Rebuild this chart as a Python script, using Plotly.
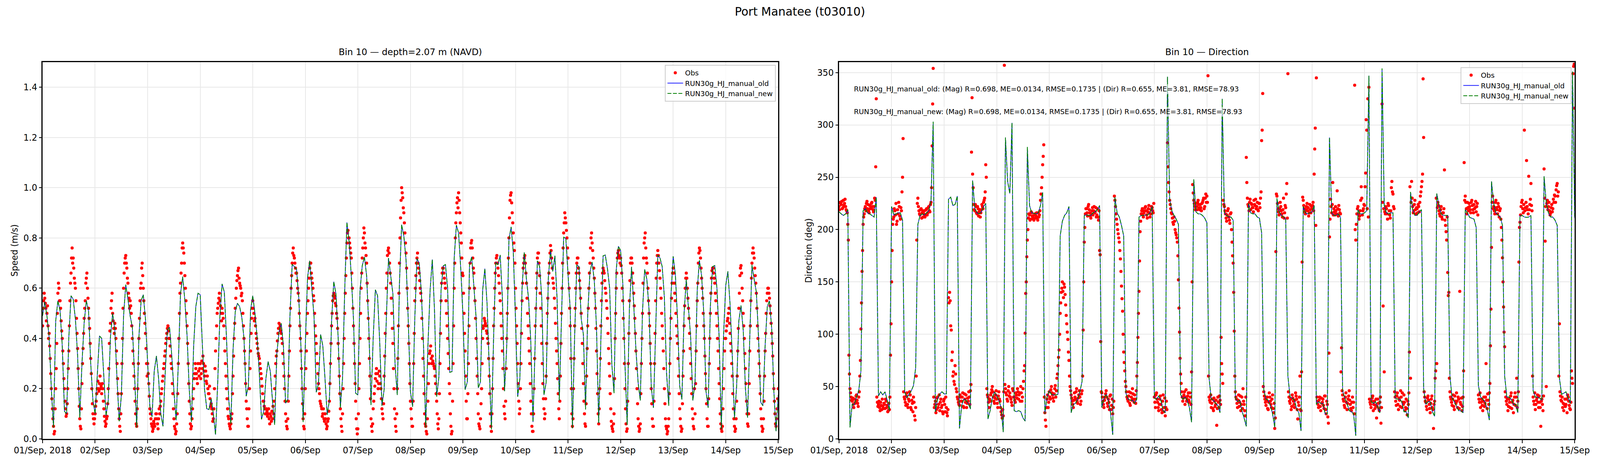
import pandas as pd
import plotly.graph_objects as go

# Hourly model output (both runs give the same numbers)
mod_spd = [
    0.49, 0.545, 0.49, 0.405, 0.20, 0.045, 0.47, 0.55, 0.51, 0.37, 0.11, 0.10, 0.405, 0.57, 0.556, 0.477, 0.333, 0.085, 0.30, 0.463, 0.55, 0.51, 0.30, 0.153,
    0.10, 0.26, 0.41, 0.40, 0.25, 0.092, 0.153, 0.405, 0.50, 0.434, 0.24, 0.07, 0.175, 0.49, 0.614, 0.556, 0.49, 0.445, 0.26, 0.045, 0.405, 0.55, 0.574, 0.477,
    0.30, 0.13, 0.088, 0.27, 0.33, 0.24, 0.10, 0.05, 0.26, 0.434, 0.445, 0.333, 0.19, 0.074, 0.30, 0.578, 0.646, 0.55, 0.41, 0.196, 0.067, 0.37, 0.527, 0.58,
    0.574, 0.37, 0.196, 0.12, 0.117, 0.16, 0.10, 0.017, 0.225, 0.49, 0.617, 0.585, 0.405, 0.16, 0.06, 0.355, 0.506, 0.54, 0.527, 0.484, 0.40, 0.17, 0.21, 0.513,
    0.57, 0.50, 0.405, 0.26, 0.078, 0.11, 0.24, 0.308, 0.27, 0.153, 0.056, 0.34, 0.426, 0.46, 0.37, 0.142, 0.157, 0.49, 0.695, 0.686, 0.675, 0.563, 0.37, 0.067,
    0.37, 0.64, 0.709, 0.592, 0.484, 0.186, 0.218, 0.416, 0.37, 0.24, 0.096, 0.153, 0.47, 0.626, 0.578, 0.405, 0.124, 0.24, 0.592, 0.862, 0.786, 0.65, 0.477, 0.182,
    0.175, 0.592, 0.689, 0.725, 0.65, 0.448, 0.135, 0.40, 0.594, 0.57, 0.383, 0.132, 0.196, 0.477, 0.72, 0.65, 0.578, 0.297, 0.175, 0.62, 0.853, 0.808, 0.714, 0.477,
    0.19, 0.128, 0.477, 0.718, 0.70, 0.585, 0.37, 0.045, 0.37, 0.592, 0.714, 0.513, 0.168, 0.245, 0.592, 0.689, 0.694, 0.60, 0.265, 0.268, 0.72, 0.851, 0.82, 0.678,
    0.49, 0.196, 0.227, 0.693, 0.725, 0.606, 0.484, 0.203, 0.227, 0.592, 0.678, 0.54, 0.297, 0.038, 0.405, 0.704, 0.693, 0.732, 0.563, 0.19, 0.37, 0.794, 0.844, 0.743,
    0.477, 0.168, 0.24, 0.60, 0.743, 0.635, 0.556, 0.383, 0.067, 0.37, 0.709, 0.686, 0.563, 0.175, 0.225, 0.642, 0.75, 0.667, 0.729, 0.556, 0.153, 0.477, 0.804, 0.797,
    0.657, 0.513, 0.042, 0.405, 0.693, 0.686, 0.48, 0.416, 0.117, 0.50, 0.664, 0.704, 0.628, 0.441, 0.063, 0.405, 0.729, 0.732, 0.678, 0.60, 0.297, 0.182, 0.671, 0.767,
    0.75, 0.62, 0.297, 0.056, 0.513, 0.685, 0.535, 0.355, 0.225, 0.153, 0.506, 0.675, 0.635, 0.513, 0.21, 0.124, 0.448, 0.732, 0.72, 0.686, 0.563, 0.26, 0.132, 0.57,
    0.727, 0.657, 0.477, 0.21, 0.157, 0.50, 0.635, 0.513, 0.405, 0.153, 0.225, 0.592, 0.711, 0.65, 0.50, 0.19, 0.124, 0.527, 0.686, 0.69, 0.60, 0.405, 0.038, 0.405,
    0.61, 0.667, 0.535, 0.333, 0.081, 0.21, 0.47, 0.531, 0.434, 0.203, 0.085, 0.405, 0.693, 0.635, 0.585, 0.405, 0.146, 0.132, 0.37, 0.527, 0.55, 0.441, 0.19, 0.031, 0.175,
]

mod_dir = [
    217, 215, 213.5, 215, 219, 11, 33, 33, 40, 46, 65, 218, 220, 216, 215, 213.5, 212, 231, 41, 45, 42, 45, 37, 27,
    222, 214, 215, 216, 216, 209, 45, 39, 43, 46, 51, 68, 205, 213.5, 215, 214, 216, 218, 227.5, 303, 26, 38, 43, 45,
    43, 43, 229, 231, 223, 224, 232, 10, 32, 38, 37, 34, 28.6, 247, 220.5, 216, 215, 217, 222, 225, 19, 27, 39, 45,
    41, 37, 30, 6.5, 288, 246, 234.5, 302, 27, 26, 27, 26, 20, 17, 279, 223, 216, 215.5, 215, 216, 223, 235.6, 24, 40,
    46, 42.6, 42, 42, 42.6, 194, 208, 213.5, 216, 222, 25, 33, 34, 38, 45, 55, 213.5, 214, 213.5, 213.5, 216, 217, 219, 223,
    30, 39, 42.6, 37, 25, 4, 231, 216, 212, 204, 194, 43.7, 38, 37, 37, 34, 38, 212, 213.5, 213.5, 214, 214, 216, 222,
    39, 38, 41, 37, 27, 25, 346, 229, 218, 213.5, 210, 205, 42.6, 38, 40, 37, 30, 16, 248, 217, 215, 215, 213.5, 211,
    206.5, 58, 38, 37, 34, 32, 25, 325, 216, 213.5, 212, 212, 209, 39, 35.6, 37, 27, 20, 12, 225, 216, 215, 215, 212,
    211, 197, 47, 38, 37, 32, 24, 11, 230, 217, 213.5, 212, 210, 60, 40, 39, 37, 28.6, 25, 7.7, 222, 216, 215, 216,
    217, 223, 33, 35.6, 34, 34, 24, 24, 288, 216, 213.5, 213.5, 215, 212, 46, 39, 34, 27, 26, 24, 3, 219, 215, 215,
    216, 218, 347, 35.6, 34, 35.6, 30, 25, 354, 223, 216, 215, 216, 216, 39, 38, 38, 35.6, 26, 26, 20, 236, 219, 213.5,
    213.5, 217, 219, 48, 33, 35.6, 35.6, 26, 21.6, 234.5, 223, 215, 213.5, 213.5, 213.5, 60, 39, 35.6, 31, 27, 27, 25, 219, 216,
    211.7, 210.7, 210, 202, 51, 40, 38, 35.6, 28.6, 18, 246, 225, 216, 214, 212, 204, 60, 40, 40, 38, 33, 33, 25, 213.5,
    213.5, 212, 211.7, 212, 213.5, 46, 40, 40, 39, 37, 251, 225, 216, 212, 212, 209, 204, 58, 42.6, 43.7, 45, 39, 34, 351, 211,
]

# Observations read on the hour and half hour, one line per day
obs_spd = [
    0.45, 0.55, 0.56, 0.52, 0.50, 0.45, 0.42, 0.32, 0.20, 0.12, 0.05, 0.03, 0.20, 0.38, 0.58, 0.60, 0.55, 0.47, 0.40, 0.30, 0.20, 0.12, 0.10, 0.20, 0.35, 0.55, 0.66, 0.76, 0.72, 0.64, 0.60, 0.48, 0.36, 0.20, 0.08, 0.04, 0.22, 0.36, 0.48, 0.55, 0.64, 0.60, 0.52, 0.44, 0.32, 0.20, 0.10, 0.06,
    0.10, 0.15, 0.20, 0.20, 0.22, 0.20, 0.18, 0.20, 0.12, 0.07, 0.06, 0.09, 0.20, 0.38, 0.46, 0.55, 0.50, 0.44, 0.46, 0.40, 0.30, 0.18, 0.08, 0.03, 0.18, 0.40, 0.60, 0.70, 0.73, 0.68, 0.62, 0.56, 0.55, 0.50, 0.40, 0.30, 0.20, 0.10, 0.05, 0.20, 0.40, 0.55, 0.62, 0.70, 0.60, 0.50, 0.42, 0.30,
    0.30, 0.22, 0.12, 0.08, 0.05, 0.04, 0.06, 0.08, 0.10, 0.06, 0.08, 0.10, 0.15, 0.20, 0.25, 0.30, 0.35, 0.40, 0.44, 0.43, 0.40, 0.33, 0.28, 0.18, 0.08, 0.04, 0.03, 0.10, 0.30, 0.50, 0.62, 0.70, 0.78, 0.74, 0.65, 0.55, 0.45, 0.30, 0.15, 0.06, 0.05, 0.12, 0.20, 0.26, 0.28, 0.24, 0.30, 0.25,
    0.30, 0.26, 0.28, 0.30, 0.25, 0.27, 0.22, 0.20, 0.18, 0.16, 0.14, 0.10, 0.08, 0.20, 0.35, 0.45, 0.52, 0.56, 0.55, 0.50, 0.52, 0.48, 0.40, 0.30, 0.20, 0.12, 0.08, 0.05, 0.06, 0.10, 0.25, 0.40, 0.52, 0.60, 0.65, 0.68, 0.62, 0.60, 0.58, 0.50, 0.40, 0.30, 0.15, 0.08, 0.05, 0.20, 0.35, 0.48,
    0.55, 0.50, 0.48, 0.42, 0.38, 0.34, 0.32, 0.28, 0.24, 0.18, 0.15, 0.12, 0.10, 0.11, 0.10, 0.08, 0.10, 0.07, 0.08, 0.10, 0.20, 0.30, 0.35, 0.42, 0.46, 0.45, 0.42, 0.38, 0.30, 0.20, 0.10, 0.05, 0.08, 0.25, 0.45, 0.60, 0.70, 0.76, 0.72, 0.68, 0.66, 0.60, 0.55, 0.45, 0.35, 0.20, 0.08, 0.04,
    0.20, 0.35, 0.50, 0.60, 0.68, 0.70, 0.64, 0.60, 0.55, 0.45, 0.38, 0.30, 0.22, 0.18, 0.14, 0.12, 0.10, 0.08, 0.10, 0.06, 0.05, 0.08, 0.15, 0.30, 0.45, 0.55, 0.58, 0.56, 0.53, 0.48, 0.38, 0.25, 0.12, 0.05, 0.10, 0.30, 0.50, 0.65, 0.78, 0.83, 0.80, 0.76, 0.72, 0.60, 0.45, 0.30, 0.15, 0.04,
    0.04, 0.20, 0.40, 0.60, 0.72, 0.80, 0.82, 0.76, 0.70, 0.55, 0.40, 0.25, 0.08, 0.03, 0.12, 0.18, 0.24, 0.28, 0.26, 0.22, 0.25, 0.20, 0.12, 0.08, 0.25, 0.42, 0.60, 0.73, 0.76, 0.70, 0.62, 0.50, 0.38, 0.20, 0.08, 0.03, 0.20, 0.45, 0.70, 0.88, 1.00, 0.96, 0.90, 0.82, 0.74, 0.60, 0.45, 0.30,
    0.15, 0.08, 0.05, 0.30, 0.55, 0.65, 0.72, 0.70, 0.66, 0.60, 0.55, 0.40, 0.25, 0.10, 0.05, 0.02, 0.15, 0.30, 0.35, 0.32, 0.33, 0.30, 0.28, 0.22, 0.15, 0.06, 0.08, 0.30, 0.55, 0.66, 0.68, 0.64, 0.60, 0.50, 0.40, 0.28, 0.18, 0.05, 0.03, 0.30, 0.60, 0.80, 0.90, 0.96, 0.98, 0.90, 0.82, 0.72,
    0.65, 0.50, 0.35, 0.15, 0.08, 0.30, 0.60, 0.76, 0.79, 0.72, 0.66, 0.55, 0.40, 0.25, 0.10, 0.05, 0.08, 0.20, 0.40, 0.45, 0.47, 0.45, 0.42, 0.38, 0.25, 0.10, 0.03, 0.20, 0.45, 0.60, 0.70, 0.73, 0.68, 0.62, 0.55, 0.45, 0.35, 0.20, 0.10, 0.15, 0.40, 0.60, 0.80, 0.95, 0.98, 0.90, 0.82, 0.75,
    0.60, 0.45, 0.30, 0.15, 0.12, 0.30, 0.55, 0.68, 0.72, 0.70, 0.62, 0.50, 0.40, 0.30, 0.15, 0.05, 0.03, 0.20, 0.45, 0.60, 0.72, 0.74, 0.65, 0.52, 0.38, 0.22, 0.12, 0.10, 0.25, 0.50, 0.62, 0.70, 0.77, 0.72, 0.64, 0.60, 0.52, 0.40, 0.30, 0.18, 0.08, 0.25, 0.50, 0.70, 0.82, 0.90, 0.86, 0.80,
    0.72, 0.60, 0.45, 0.20, 0.05, 0.20, 0.45, 0.60, 0.70, 0.72, 0.66, 0.60, 0.50, 0.38, 0.22, 0.10, 0.05, 0.25, 0.45, 0.60, 0.70, 0.80, 0.78, 0.72, 0.64, 0.52, 0.35, 0.18, 0.06, 0.20, 0.45, 0.62, 0.68, 0.66, 0.60, 0.55, 0.48, 0.36, 0.25, 0.12, 0.05, 0.03, 0.10, 0.40, 0.60, 0.72, 0.75, 0.72,
    0.72, 0.66, 0.55, 0.40, 0.20, 0.06, 0.04, 0.30, 0.55, 0.70, 0.72, 0.66, 0.58, 0.48, 0.35, 0.20, 0.08, 0.03, 0.06, 0.30, 0.50, 0.72, 0.80, 0.76, 0.70, 0.60, 0.50, 0.38, 0.20, 0.08, 0.05, 0.30, 0.55, 0.70, 0.75, 0.70, 0.64, 0.56, 0.45, 0.35, 0.20, 0.08, 0.04, 0.03, 0.08, 0.30, 0.48, 0.62,
    0.68, 0.62, 0.55, 0.45, 0.38, 0.25, 0.12, 0.05, 0.04, 0.25, 0.45, 0.60, 0.66, 0.60, 0.52, 0.42, 0.30, 0.18, 0.08, 0.04, 0.10, 0.35, 0.55, 0.70, 0.76, 0.72, 0.64, 0.56, 0.45, 0.33, 0.20, 0.08, 0.05, 0.30, 0.50, 0.64, 0.68, 0.66, 0.62, 0.55, 0.45, 0.35, 0.22, 0.10, 0.04, 0.05, 0.20, 0.35,
    0.40, 0.45, 0.48, 0.52, 0.42, 0.35, 0.25, 0.12, 0.05, 0.04, 0.15, 0.35, 0.52, 0.65, 0.69, 0.60, 0.50, 0.40, 0.28, 0.15, 0.06, 0.10, 0.35, 0.55, 0.70, 0.76, 0.72, 0.65, 0.58, 0.45, 0.35, 0.25, 0.12, 0.05, 0.04, 0.15, 0.35, 0.50, 0.58, 0.60, 0.56, 0.50, 0.42, 0.33, 0.20, 0.10, 0.05, 0.12, 0.20,
]

# Observations read at quarter past and quarter to
obs_spd_q = [
    .52, .58, .54, .47, .53, .40, .37, .26, .16, .08, .02, .12, .28, .50, .62, .55, .52, .43, .35, .24, .15, .09, .14, .28, .45, .62, .72, .70, .68, .62, .55, .42, .28, .13, .05, .12, .30, .42, .52, .62, .66, .56, .48, .38, .26, .14, .08, .08,
    .13, .18, .23, .19, .25, .21, .22, .15, .09, .05, .08, .14, .28, .43, .52, .58, .47, .42, .44, .35, .24, .12, .05, .10, .30, .52, .66, .72, .70, .64, .58, .52, .53, .45, .35, .25, .15, .06, .12, .30, .48, .60, .68, .65, .55, .46, .36, .25,
    .26, .17, .10, .06, .03, .07, .05, .10, .08, .04, .12, .13, .18, .23, .28, .33, .38, .42, .45, .40, .37, .30, .22, .12, .05, .02, .06, .18, .40, .58, .66, .76, .76, .70, .60, .50, .38, .22, .10, .04, .08, .16, .24, .30, .26, .22, .27, .28,
    .24, .31, .33, .27, .29, .23, .25, .18, .21, .13, .12, .07, .12, .28, .40, .50, .54, .58, .53, .47, .50, .45, .35, .25, .16, .09, .06, .04, .08, .18, .33, .46, .56, .63, .67, .64, .61, .57, .55, .45, .35, .22, .12, .05, .12, .28, .42, .52,
    .52, .47, .45, .40, .36, .33, .30, .26, .21, .15, .13, .10, .12, .09, .12, .06, .09, .11, .13, .15, .25, .33, .39, .44, .44, .43, .40, .34, .25, .15, .07, .04, .15, .35, .52, .65, .74, .73, .70, .66, .63, .58, .50, .40, .28, .14, .05, .10,
    .28, .42, .55, .64, .70, .66, .62, .57, .50, .41, .34, .26, .20, .15, .13, .09, .12, .07, .08, .04, .07, .11, .22, .38, .50, .57, .57, .54, .50, .44, .32, .18, .08, .03, .20, .40, .58, .72, .82, .80, .78, .74, .66, .52, .38, .22, .08, .02,
    .10, .30, .50, .66, .76, .84, .78, .73, .62, .48, .32, .16, .05, .06, .15, .21, .26, .23, .20, .27, .22, .16, .10, .14, .33, .50, .66, .75, .74, .66, .56, .44, .28, .12, .05, .10, .32, .58, .80, .95, .98, .92, .86, .78, .68, .52, .38, .22,
    .12, .05, .15, .42, .60, .70, .74, .68, .63, .58, .48, .32, .18, .06, .03, .08, .22, .34, .37, .30, .31, .29, .25, .18, .10, .04, .18, .42, .62, .68, .66, .62, .55, .45, .34, .22, .10, .02, .15, .45, .70, .86, .94, .92, .95, .86, .78, .66,
    .58, .42, .25, .08, .18, .45, .70, .78, .76, .68, .60, .48, .32, .18, .06, .04, .14, .30, .44, .48, .46, .43, .40, .32, .18, .05, .10, .32, .52, .66, .72, .70, .65, .58, .50, .40, .28, .13, .08, .28, .50, .72, .88, .97, .94, .86, .78, .70,
    .52, .38, .22, .10, .20, .42, .62, .70, .73, .66, .56, .45, .35, .22, .10, .03, .10, .32, .52, .66, .74, .70, .58, .45, .30, .16, .08, .16, .38, .56, .66, .74, .75, .68, .62, .56, .46, .35, .24, .12, .15, .38, .60, .76, .86, .88, .83, .76,
    .66, .52, .32, .10, .08, .32, .52, .66, .72, .68, .63, .56, .44, .30, .15, .06, .14, .36, .52, .66, .76, .82, .75, .68, .58, .44, .26, .10, .12, .32, .55, .66, .67, .63, .58, .52, .42, .30, .18, .07, .04, .06, .24, .50, .66, .74, .73, .70,
    .69, .60, .48, .30, .12, .03, .15, .42, .63, .72, .70, .62, .53, .42, .28, .14, .05, .04, .18, .40, .62, .78, .82, .72, .66, .55, .45, .30, .14, .05, .15, .42, .64, .73, .73, .67, .60, .50, .40, .28, .14, .05, .02, .05, .18, .40, .56, .66,
    .66, .58, .50, .41, .32, .18, .08, .03, .14, .35, .53, .64, .64, .56, .48, .36, .24, .12, .05, .20, .22, .45, .62, .74, .75, .68, .60, .50, .40, .26, .14, .05, .16, .40, .58, .67, .68, .64, .58, .50, .40, .28, .16, .06, .03, .12, .28, .40,
    .43, .47, .50, .46, .38, .30, .18, .08, .03, .08, .25, .44, .58, .68, .66, .55, .45, .34, .22, .10, .05, .22, .45, .64, .74, .74, .68, .62, .52, .40, .30, .18, .08, .03, .08, .25, .42, .55, .60, .58, .53, .46, .38, .26, .15, .06, .08, .16,
]

obs_dir = [
    222, 226, 224, 220, 228, 225, 222, 218, 205, 80, 48, 40, 36, 33, 38, 35, 42, 34, 40, 60, 105, 160, 205, 215, 222, 225, 220, 218, 223, 221, 226, 219, 222, 228, 325, 35, 33, 30, 35, 28, 31, 34, 29, 36, 32, 27, 28, 80,
    150, 205, 212, 218, 225, 208, 215, 222, 210, 218, 250, 45, 38, 32, 44, 30, 36, 42, 28, 34, 40, 22, 30, 190, 230, 218, 214, 220, 216, 212, 218, 214, 220, 216, 222, 217, 226, 280, 354, 30, 36, 28, 40, 33, 27, 38, 32, 24,
    38, 26, 30, 22, 135, 140, 108, 75, 60, 55, 70, 48, 40, 35, 32, 40, 36, 44, 30, 38, 42, 34, 36, 40, 46, 274, 253, 224, 218, 222, 215, 220, 217, 212, 219, 222, 226, 230, 262, 48, 40, 30, 36, 44, 50, 40, 34, 42,
    38, 30, 45, 36, 26, 20, 22, 357, 48, 42, 36, 50, 44, 38, 32, 46, 40, 35, 42, 48, 38, 44, 50, 36, 48, 65, 101, 150, 190, 211, 214, 210, 216, 212, 209, 215, 213, 211, 216, 214, 228, 240, 262, 281, 25, 12, 38, 30,
    45, 38, 50, 42, 36, 48, 40, 58, 70, 85, 120, 140, 150, 135, 145, 128, 110, 95, 75, 50, 42, 36, 30, 44, 38, 48, 34, 42, 40, 36, 46, 104, 188, 215, 220, 213, 224, 216, 211, 218, 214, 222, 217, 212, 220, 209, 180, 93,
    44, 36, 30, 40, 46, 34, 38, 28, 42, 32, 24, 36, 228, 215, 205, 196, 188, 172, 146, 122, 83, 65, 50, 40, 36, 45, 32, 40, 48, 38, 42, 34, 60, 97, 141, 198, 215, 220, 212, 218, 222, 214, 217, 223, 212, 219, 221, 216,
    40, 30, 44, 35, 27, 38, 33, 25, 42, 30, 22, 36, 283, 245, 228, 220, 215, 207, 212, 200, 195, 188, 152, 102, 62, 45, 36, 42, 33, 47, 38, 44, 35, 40, 64, 243, 228, 222, 225, 219, 228, 221, 224, 218, 226, 230, 222, 234,
    232, 347, 40, 35, 30, 38, 27, 36, 33, 13, 40, 30, 37, 97, 62, 228, 222, 215, 208, 218, 212, 206, 216, 188, 168, 103, 45, 38, 30, 42, 35, 27, 40, 48, 33, 22, 269, 230, 222, 226, 219, 224, 221, 228, 223, 220, 226, 218,
    225, 230, 285, 330, 45, 38, 32, 40, 28, 44, 36, 30, 42, 25, 10, 179, 232, 220, 214, 226, 218, 212, 230, 216, 221, 244, 349, 40, 34, 28, 42, 36, 30, 44, 38, 19, 32, 60, 27, 169, 228, 220, 215, 222, 218, 213, 224, 216,
    220, 226, 253, 297, 345, 36, 30, 40, 27, 34, 38, 29, 41, 24, 33, 15, 193, 229, 216, 245, 220, 214, 218, 237, 213, 219, 215, 87, 42, 36, 30, 44, 28, 38, 46, 33, 27, 40, 35, 338, 190, 215, 222, 210, 218, 241, 214, 220,
    223, 254, 295, 325, 336, 35, 30, 39, 27, 36, 32, 20, 38, 29, 35, 15, 320, 127, 64, 215, 220, 210, 223, 214, 218, 246, 234, 220, 40, 32, 44, 28, 37, 46, 30, 35, 42, 27, 38, 23, 33, 83, 58, 246, 222, 218, 228, 215,
    220, 224, 217, 232, 241, 253, 288, 40, 35, 28, 41, 33, 25, 38, 30, 10, 36, 65, 72, 226, 218, 213, 222, 210, 216, 257, 204, 190, 159, 140, 45, 38, 32, 42, 28, 36, 44, 30, 38, 141, 33, 27, 40, 264, 232, 220, 226, 218,
    222, 216, 228, 219, 224, 221, 217, 225, 42, 35, 30, 38, 27, 40, 34, 72, 29, 37, 44, 89, 183, 232, 222, 215, 228, 219, 225, 212, 220, 202, 173, 126, 88, 40, 33, 27, 38, 30, 44, 35, 25, 40, 32, 58, 36, 169, 207, 222,
    228, 216, 295, 221, 266, 219, 251, 224, 244, 218, 40, 33, 28, 37, 42, 30, 35, 12, 38, 27, 258, 189, 50, 228, 222, 218, 216, 224, 220, 226, 232, 238, 244, 236, 110, 41, 36, 30, 27, 38, 33, 25, 40, 32, 28, 65, 53, 356, 316,
]

obs_dir_q = [
    219, 225, 227, 221, 223, 229, 219, 216, 190, 62, 44, 37, 39, 30, 34, 41, 37, 31, 45, 75, 130, 180, 212, 220, 218, 227, 224, 216, 220, 225, 222, 217, 230, 260, 40, 31, 36, 27, 32, 38, 29, 33, 38, 30, 26, 34, 40, 110,
    180, 210, 220, 214, 205, 219, 226, 213, 221, 236, 287, 40, 35, 41, 33, 38, 45, 30, 37, 26, 35, 18, 60, 225, 222, 215, 219, 211, 218, 215, 212, 219, 214, 221, 218, 224, 240, 320, 40, 33, 25, 39, 30, 42, 35, 30, 26, 36,
    33, 40, 25, 28, 130, 132, 104, 83, 64, 52, 62, 45, 38, 33, 42, 36, 40, 31, 43, 35, 30, 39, 45, 33, 52, 326, 240, 219, 224, 216, 222, 213, 219, 216, 224, 220, 228, 236, 250, 42, 35, 38, 42, 47, 45, 36, 39, 46,
    34, 41, 38, 30, 23, 28, 45, 52, 44, 38, 46, 41, 40, 35, 48, 40, 37, 44, 39, 45, 42, 36, 44, 40, 55, 70, 139, 174, 200, 215, 209, 217, 213, 210, 214, 211, 216, 209, 212, 218, 234, 250, 270, 40, 18, 30, 42, 35,
    40, 47, 44, 39, 43, 51, 46, 62, 78, 100, 130, 144, 141, 148, 138, 118, 102, 83, 60, 46, 39, 33, 37, 40, 45, 36, 39, 46, 33, 43, 60, 150, 202, 220, 216, 222, 219, 213, 215, 221, 218, 216, 221, 214, 212, 218, 176, 45,
    40, 33, 37, 43, 40, 31, 35, 41, 28, 38, 30, 232, 222, 210, 200, 192, 180, 160, 134, 100, 73, 55, 45, 38, 41, 34, 44, 37, 43, 35, 38, 46, 73, 120, 170, 208, 218, 214, 216, 221, 218, 211, 220, 216, 215, 222, 218, 225,
    35, 42, 38, 30, 33, 41, 28, 36, 26, 39, 30, 28, 260, 236, 224, 216, 211, 205, 208, 197, 192, 175, 125, 77, 53, 40, 39, 45, 40, 36, 41, 37, 44, 33, 150, 235, 225, 219, 222, 226, 224, 219, 221, 225, 228, 220, 230, 226,
    226, 60, 37, 42, 34, 29, 39, 31, 37, 29, 35, 41, 33, 72, 53, 224, 218, 211, 214, 220, 209, 215, 200, 175, 140, 60, 40, 34, 37, 31, 41, 33, 29, 36, 27, 40, 245, 224, 218, 229, 225, 221, 217, 224, 229, 222, 219, 225,
    221, 236, 295, 50, 41, 35, 37, 29, 35, 40, 33, 38, 29, 34, 20, 234, 225, 217, 220, 222, 215, 219, 211, 223, 234, 211, 45, 36, 38, 31, 39, 33, 37, 41, 28, 35, 40, 28, 64, 231, 223, 217, 219, 225, 221, 216, 219, 222,
    223, 218, 277, 204, 40, 33, 37, 31, 39, 35, 32, 41, 28, 36, 21, 82, 210, 222, 224, 214, 217, 222, 215, 220, 223, 216, 64, 46, 38, 32, 40, 35, 34, 41, 37, 29, 35, 30, 24, 200, 205, 220, 215, 213, 228, 230, 218, 224,
    241, 305, 220, 212, 38, 33, 36, 41, 33, 29, 38, 31, 34, 27, 40, 30, 226, 220, 217, 222, 215, 225, 218, 211, 240, 236, 222, 45, 36, 41, 33, 39, 31, 40, 44, 33, 35, 30, 29, 36, 44, 241, 226, 230, 216, 224, 219, 221,
    216, 222, 226, 236, 246, 344, 45, 36, 31, 39, 37, 29, 34, 41, 28, 33, 58, 230, 221, 223, 215, 219, 212, 216, 220, 209, 198, 212, 137, 58, 40, 35, 38, 31, 41, 34, 36, 40, 29, 35, 39, 31, 65, 228, 226, 215, 221, 225,
    219, 226, 223, 216, 220, 227, 222, 214, 38, 44, 35, 32, 36, 31, 40, 37, 43, 33, 53, 124, 226, 220, 218, 226, 221, 215, 222, 218, 210, 190, 150, 102, 45, 36, 38, 31, 35, 41, 29, 37, 33, 44, 40, 30, 45, 202, 214, 226,
    220, 224, 218, 226, 222, 215, 219, 229, 223, 60, 36, 44, 33, 39, 35, 41, 30, 36, 33, 41, 230, 222, 225, 219, 226, 214, 221, 217, 229, 233, 226, 242, 232, 60, 45, 37, 40, 34, 33, 31, 38, 42, 36, 29, 35, 58, 349, 358,
]

day_labels = ["01/Sep, 2018", "02/Sep", "03/Sep", "04/Sep", "05/Sep", "06/Sep", "07/Sep",
              "08/Sep", "09/Sep", "10/Sep", "11/Sep", "12/Sep", "13/Sep", "14/Sep", "15/Sep"]

stats_old = "RUN30g_HJ_manual_old: (Mag) R=0.698, ME=0.0134, RMSE=0.1735 | (Dir) R=0.655, ME=3.81, RMSE=78.93"
stats_new = "RUN30g_HJ_manual_new: (Mag) R=0.698, ME=0.0134, RMSE=0.1735 | (Dir) R=0.655, ME=3.81, RMSE=78.93"

t_mod = pd.date_range("2018-09-01", periods=len(mod_spd), freq="h")
t_obs = list(pd.date_range("2018-09-01 00:00", periods=len(obs_spd), freq="30min")) + \
    list(pd.date_range("2018-09-01 00:15", periods=len(obs_spd_q), freq="30min"))
t_ticks = pd.date_range("2018-09-01", periods=len(day_labels), freq="D")

# The photo comes out 4096 px wide and 1200 tall: squeeze the 5000-wide design
# horizontally by K; the page body keeps its default 8px margin.
K = 4096 / 5000
PAD = 8
W = 4096 - 2 * PAD
H = 1200 - 2 * PAD


def px(v):
    return v * K


def fx(x):
    return (x * K - PAD) / W


def fy(y):
    return 1 - (y - PAD) / H


FONT = "DejaVu Sans"

fig = go.Figure()

for ax, ya, leg, obs, mod in [("x", "y", "legend", obs_spd + obs_spd_q, mod_spd),
                              ("x2", "y2", "legend2", obs_dir + obs_dir_q, mod_dir)]:
    fig.add_trace(go.Scatter(x=t_obs, y=obs, mode="markers", name="Obs",
                             marker=dict(color="red", size=8),
                             xaxis=ax, yaxis=ya, legend=leg))
    fig.add_trace(go.Scatter(x=t_mod, y=mod, mode="lines", name="RUN30g_HJ_manual_old",
                             line=dict(color="blue", width=px(2)),
                             xaxis=ax, yaxis=ya, legend=leg))
    fig.add_trace(go.Scatter(x=t_mod, y=mod, mode="lines", name="RUN30g_HJ_manual_new",
                             line=dict(color="green", width=px(2.5), dash="10px,4px"),
                             xaxis=ax, yaxis=ya, legend=leg))

xcommon = dict(type="date", range=["2018-09-01", "2018-09-15"],
               tickmode="array", tickvals=t_ticks, ticktext=day_labels,
               showgrid=True, gridcolor="#e8e8e8", gridwidth=2,
               showline=True, linecolor="black", linewidth=2.5, mirror=True,
               ticks="outside", ticklen=8, tickwidth=2, tickcolor="black",
               tickfont=dict(size=px(27), color="black"), zeroline=False, automargin=False)
ycommon = dict(showgrid=True, gridcolor="#e8e8e8", gridwidth=2,
               showline=True, linecolor="black", linewidth=2.5, mirror=True,
               ticks="outside", ticklen=px(8), tickwidth=2, tickcolor="black",
               tickfont=dict(size=px(27), color="black"), zeroline=False, automargin=False)

ydom = [fy(1123), fy(159)]
legend_style = dict(xanchor="right", yanchor="top", bgcolor="rgba(255,255,255,0.8)",
                    bordercolor="#cccccc", borderwidth=2, font=dict(size=px(22)),
                    itemwidth=40, tracegroupgap=0)
fig.update_layout(
    width=W, height=H,
    margin=dict(l=0, r=0, t=0, b=0),
    paper_bgcolor="white", plot_bgcolor="white",
    font=dict(family=FONT, color="black"),
    xaxis=dict(domain=[fx(133), fx(2432)], anchor="y", **xcommon),
    yaxis=dict(domain=ydom, anchor="x", range=[0, 1.5], dtick=0.2, tickformat=".1f", **ycommon),
    xaxis2=dict(domain=[fx(2622), fx(4921)], anchor="y2", **xcommon),
    yaxis2=dict(domain=ydom, anchor="x2", range=[0, 360], dtick=50, **ycommon),
    legend=dict(x=fx(2424), y=fy(166), **legend_style),
    legend2=dict(x=fx(4911), y=fy(172), **legend_style),
    showlegend=True,
)

# titles, axis labels and the stats box
def note(text, x, y, size, **kw):
    opts = dict(xanchor="center", yanchor="middle")
    opts.update(kw)
    fig.add_annotation(text=text, x=fx(x), y=fy(y), xref="paper", yref="paper",
                       showarrow=False, font=dict(size=px(size)), **opts)


note("Port Manatee (t03010)", 2500, 30, 36)
note("Bin 10 — depth=2.07 m (NAVD)", (133 + 2432) / 2, 133, 28)
note("Bin 10 — Direction", (2622 + 4921) / 2, 133, 28)
note("Speed (m/s)", 45, (159 + 1123) / 2, 27, textangle=-90)
note("Direction (deg)", 2527, (159 + 1123) / 2, 27, textangle=-90)
for txt, ypix in [(stats_old, 228), (stats_new, 286)]:
    note(txt, 2666, ypix, 22, xanchor="left", bgcolor="rgba(255,255,255,0.6)")

fig.write_html("out.html")
